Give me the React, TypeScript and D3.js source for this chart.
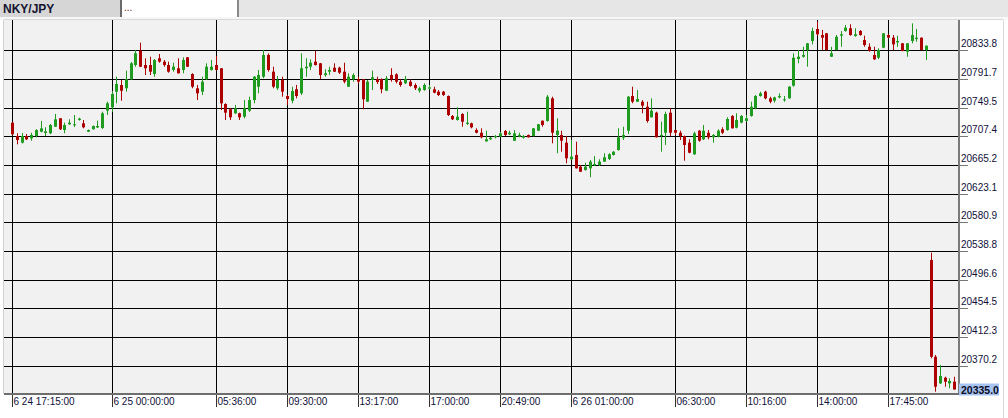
import React from "react";
import * as d3 from "d3";

const opens = [20727.4,20707.8,20698.0,20707.8,20704.4,20707.8,20714.1,20712.2,20711.8,20721.5,20733.9,20716.6,20725.1,20723.6,20731.3,20726.5,20714.1,20717.7,20720.4,20719.6,20745.1,20750.0,20773.0,20782.8,20778.0,20791.2,20812.2,20833.2,20812.2,20812.2,20799.0,20822.1,20817.1,20812.2,20804.9,20807.4,20804.9,20823.5,20799.0,20778.0,20773.0,20791.2,20804.9,20812.2,20807.4,20754.9,20747.1,20741.2,20741.2,20736.2,20745.1,20760.7,20780.3,20795.0,20826.9,20802.4,20778.0,20790.2,20766.6,20759.7,20776.5,20770.6,20807.4,20809.7,20817.1,20814.7,20797.5,20802.4,20808.2,20808.2,20802.4,20780.3,20791.2,20791.2,20791.2,20758.3,20790.2,20791.2,20791.2,20774.4,20797.5,20798.5,20787.7,20785.3,20787.7,20782.8,20774.4,20775.4,20777.4,20776.5,20773.0,20773.0,20766.6,20737.2,20731.3,20740.2,20725.5,20726.5,20716.6,20712.6,20700.0,20703.0,20705.9,20706.8,20715.2,20710.3,20700.9,20706.8,20705.3,20709.3,20707.8,20715.6,20730.3,20729.9,20763.2,20709.3,20709.3,20698.0,20673.5,20679.9,20662.7,20657.8,20660.3,20664.7,20665.2,20670.1,20674.0,20679.9,20687.2,20705.3,20715.6,20766.6,20758.2,20758.2,20750.9,20735.3,20742.1,20707.8,20712.6,20742.1,20716.6,20712.6,20707.8,20698.0,20680.9,20715.6,20703.0,20712.6,20705.9,20706.8,20717.7,20716.6,20737.2,20720.0,20727.4,20729.9,20737.2,20748.5,20766.6,20773.0,20763.2,20759.7,20764.7,20760.7,20763.2,20781.8,20821.1,20824.4,20834.3,20847.5,20865.2,20856.3,20858.8,20824.4,20834.3,20855.3,20862.2,20866.2,20854.9,20862.2,20849.0,20839.1,20826.9,20823.0,20837.7,20856.3,20852.4,20845.6,20844.1,20831.8,20847.5,20850.4,20852.4,20834.3,20525.4,20383.2,20344.1,20352.4,20344.1,20346.5];
const highs = [20728.4,20711.8,20712.2,20710.7,20712.6,20717.7,20729.9,20720.6,20725.5,20740.2,20734.3,20727.4,20732.4,20738.7,20734.7,20731.3,20717.4,20723.3,20730.4,20743.6,20758.3,20774.0,20795.0,20790.2,20803.9,20816.6,20834.3,20845.0,20822.1,20824.4,20821.0,20828.4,20819.6,20817.1,20815.6,20822.1,20823.5,20824.0,20800.0,20782.8,20795.0,20814.7,20819.6,20825.4,20807.8,20755.9,20749.0,20753.4,20742.1,20760.7,20765.6,20796.0,20804.9,20834.3,20829.4,20809.7,20796.0,20795.0,20768.1,20780.3,20782.8,20829.4,20822.1,20820.6,20833.2,20815.2,20805.9,20809.7,20814.7,20809.7,20815.6,20800.0,20800.0,20795.0,20791.6,20790.2,20803.9,20795.0,20792.7,20796.0,20807.4,20800.0,20791.2,20796.0,20791.2,20785.3,20780.3,20785.3,20782.8,20780.3,20775.4,20774.0,20767.4,20738.7,20750.0,20741.2,20743.6,20727.4,20719.1,20719.1,20715.6,20706.3,20709.3,20713.7,20716.6,20715.6,20716.6,20712.6,20709.3,20710.0,20719.6,20725.5,20730.6,20768.1,20765.6,20733.8,20715.6,20707.8,20701.9,20699.4,20665.2,20668.5,20672.5,20678.4,20673.5,20682.4,20682.4,20685.7,20719.1,20721.5,20766.6,20780.3,20775.4,20760.7,20758.3,20763.2,20743.6,20728.8,20743.6,20748.5,20716.8,20715.6,20708.5,20703.0,20714.1,20716.6,20724.0,20716.6,20710.7,20717.7,20720.6,20735.3,20738.7,20741.2,20738.7,20738.7,20758.3,20768.1,20773.0,20774.4,20765.6,20765.6,20770.6,20766.6,20781.3,20829.4,20834.3,20839.1,20844.6,20867.1,20875.9,20863.7,20859.3,20839.1,20856.3,20862.2,20871.0,20872.1,20866.2,20863.7,20855.3,20844.1,20839.1,20836.8,20859.3,20857.4,20856.3,20855.3,20844.6,20844.6,20873.5,20865.2,20852.7,20840.9,20536.2,20385.7,20371.0,20353.8,20351.5,20353.8];
const lows = [20709.3,20695.6,20696.8,20701.9,20700.9,20705.9,20713.2,20707.8,20710.7,20721.1,20716.6,20711.8,20724.0,20721.1,20730.4,20719.1,20713.7,20717.4,20719.6,20718.1,20738.7,20743.2,20755.9,20759.7,20773.0,20790.2,20809.7,20809.3,20797.5,20797.5,20795.0,20815.6,20809.7,20800.9,20802.4,20799.7,20800.0,20809.3,20778.0,20760.7,20768.1,20790.2,20804.1,20804.1,20746.0,20731.3,20731.3,20740.2,20731.3,20733.8,20743.2,20755.9,20770.6,20792.7,20802.4,20778.0,20775.4,20765.6,20753.4,20755.9,20763.2,20768.1,20795.0,20804.9,20811.5,20791.2,20795.0,20797.5,20801.9,20799.0,20785.3,20779.9,20787.7,20785.3,20747.1,20757.8,20775.4,20784.3,20770.6,20774.0,20787.7,20785.3,20780.3,20784.3,20780.3,20775.4,20771.5,20774.4,20776.5,20770.6,20766.6,20766.6,20737.2,20731.3,20730.6,20721.5,20724.0,20719.1,20711.8,20704.4,20699.4,20701.9,20704.4,20706.3,20707.8,20709.3,20700.4,20705.9,20704.1,20705.6,20707.1,20715.2,20721.5,20729.1,20697.1,20682.4,20684.7,20667.7,20672.5,20660.0,20654.9,20656.8,20647.1,20663.7,20663.7,20669.6,20672.5,20679.1,20686.2,20701.9,20710.7,20755.9,20757.8,20741.2,20727.4,20735.0,20705.6,20684.7,20694.6,20707.8,20709.3,20701.9,20671.5,20682.4,20679.9,20699.4,20701.9,20703.0,20698.0,20705.9,20710.7,20715.6,20718.8,20719.1,20726.5,20728.8,20736.2,20747.1,20765.6,20761.8,20755.9,20756.8,20763.2,20758.2,20762.7,20780.3,20814.7,20823.0,20809.7,20842.6,20855.3,20834.3,20833.8,20824.0,20833.8,20839.1,20861.2,20855.3,20853.8,20855.3,20839.1,20831.8,20819.6,20821.0,20836.8,20851.5,20834.3,20839.1,20832.4,20824.4,20844.1,20846.5,20833.8,20819.6,20380.9,20331.8,20343.1,20339.1,20336.8,20335.0];
const closes = [20710.3,20701.9,20707.8,20703.0,20709.3,20716.6,20719.1,20714.7,20724.0,20732.4,20717.7,20724.0,20727.4,20725.1,20733.3,20720.6,20716.6,20722.5,20722.5,20741.2,20755.9,20769.6,20784.3,20774.4,20791.2,20814.7,20829.4,20809.7,20807.4,20802.4,20819.6,20817.1,20812.2,20802.4,20809.7,20800.0,20819.6,20809.7,20780.3,20770.6,20787.7,20809.7,20809.7,20804.9,20755.9,20742.1,20735.3,20748.5,20735.3,20748.5,20760.7,20795.0,20797.5,20826.9,20804.9,20780.3,20790.2,20773.0,20762.2,20774.0,20766.6,20807.4,20809.7,20815.6,20812.2,20797.5,20800.0,20804.9,20802.4,20800.9,20787.7,20795.0,20797.5,20787.7,20761.8,20787.7,20794.1,20787.2,20776.5,20792.7,20791.2,20787.7,20782.8,20791.2,20781.4,20778.0,20778.0,20782.8,20779.4,20771.5,20768.1,20768.1,20738.7,20732.4,20736.2,20728.8,20727.4,20720.6,20712.6,20705.9,20703.0,20705.3,20707.8,20711.8,20709.3,20712.6,20711.8,20709.3,20707.8,20705.9,20719.1,20725.1,20724.0,20765.6,20712.6,20715.6,20700.9,20675.0,20677.4,20660.3,20655.3,20662.7,20670.1,20666.6,20670.1,20676.5,20680.9,20684.7,20705.9,20709.3,20765.6,20758.2,20762.2,20752.4,20729.9,20745.1,20705.9,20709.3,20740.2,20712.6,20712.6,20707.8,20694.6,20683.2,20711.8,20700.9,20715.6,20705.9,20709.3,20715.6,20712.6,20732.8,20719.1,20731.3,20737.2,20733.8,20750.9,20766.6,20770.6,20763.2,20758.2,20764.7,20766.6,20761.8,20780.3,20822.9,20824.4,20826.9,20844.1,20862.2,20857.4,20852.4,20834.3,20829.4,20853.8,20857.4,20867.1,20856.3,20857.4,20856.3,20841.6,20832.8,20820.6,20834.3,20858.8,20852.4,20842.6,20847.5,20832.8,20844.1,20856.3,20852.4,20834.3,20840.6,20383.2,20339.1,20354.9,20346.5,20347.5,20335.0];

const priceTicks = [20833.8, 20791.7, 20749.5, 20707.4, 20665.2, 20623.1, 20580.9, 20538.8, 20496.6, 20454.5, 20412.3, 20370.2];
const timeTickIndex = [0, 21, 43, 58, 73, 88, 103, 118, 140, 155, 170, 185];
const timeTickLabels = ["6 24 17:15:00", "6 25 00:00:00", "05:36:00", "09:30:00", "13:17:00", "17:00:00", "20:49:00", "6 26 01:00:00", "06:30:00", "10:16:00", "14:00:00", "17:45:00"];
const symbol = "NKY/JPY";
const lastPrice = 20335.0;

const W = 1008, H = 418;
const plotL = 4, plotR = 959, plotT = 20, plotB = 394;
const UP = "#1f9b1f";
const DOWN = "#ad0000";
const FONT = "'Liberation Sans', Arial, sans-serif";

export default function App() {
  const n = opens.length;
  const x = d3.scaleLinear().domain([0, n - 1]).range([12.3, 954.2]);
  const y = d3.scaleLinear().domain([20328.4, 20878.4]).range([plotB, plotT]);
  const candles = d3.range(n).map((i) => ({ i, o: opens[i], h: highs[i], l: lows[i], c: closes[i] }));
  const px = (v: number) => Math.round(v) + 0.5;

  return (
    <svg width={W} height={H} style={{ position: "absolute", left: 0, top: 0, display: "block" }} fontFamily={FONT}>
      <rect x={0} y={0} width={W} height={H} fill="#ffffff" />
      {/* header */}
      <rect x={0} y={0} width={W} height={17} fill="#e6e6e6" />
      <rect x={0} y={0} width={120} height={17} fill="#d6d6d6" />
      <rect x={122} y={0} width={116} height={17} fill="#ffffff" />
      <rect x={120} y={0} width={2} height={17} fill="#6a6a6a" />
      <rect x={237} y={0} width={2} height={17} fill="#8a8a8a" />
      <text x={3} y={12.5} fontSize={12} fontWeight="bold" fill="#141430">{symbol}</text>
      <text x={124} y={11} fontSize={10} fill="#7a1010">...</text>
      <rect x={0} y={17} width={W} height={3} fill="#f7f7f7" />
      {/* plot background */}
      <rect x={plotL} y={plotT} width={plotR - plotL} height={plotB - plotT} fill="#f1f1f1" />
      <line x1={plotL - 0.5} x2={plotL - 0.5} y1={plotT} y2={plotB} stroke="#d0d0d0" />
      <line x1={plotL} x2={1003} y1={plotT - 0.5} y2={plotT - 0.5} stroke="#d8d8d8" />
      <line x1={1003.5} x2={1003.5} y1={plotT} y2={H} stroke="#d8d8d8" />
      {/* horizontal grid */}
      {priceTicks.map((t) => (
        <g key={"h" + t}>
          <line x1={plotL} x2={plotR} y1={px(y(t))} y2={px(y(t))} stroke="#000" strokeWidth={1} />
          <line x1={plotR} x2={968} y1={px(y(t))} y2={px(y(t))} stroke="#777" strokeWidth={1} />
          <text x={961} y={px(y(t)) - 3.5} fontSize={10} fill="#10103a">{t.toFixed(1)}</text>
        </g>
      ))}
      {/* vertical grid */}
      {timeTickIndex.map((ti, k) => (
        <g key={"v" + ti}>
          <line x1={px(x(ti))} x2={px(x(ti))} y1={plotT} y2={plotB} stroke="#000" strokeWidth={1} />
          <line x1={px(x(ti))} x2={px(x(ti))} y1={plotB} y2={407} stroke="#333" strokeWidth={1} />
          <text x={px(x(ti)) + 1} y={404.5} fontSize={10} fill="#10103a">{timeTickLabels[k]}</text>
        </g>
      ))}
      {/* axes */}
      <rect x={plotR - 1} y={plotT} width={2} height={plotB - plotT + 1} fill="#7a7a7a" />
      <rect x={plotL} y={plotB - 1} width={plotR - plotL} height={2} fill="#6e6e6e" />
      {/* candles */}
      {candles.map((d) => {
        const up = d.c >= d.o;
        const col = up ? UP : DOWN;
        const cx = Math.round(x(d.i));
        const top = y(Math.max(d.o, d.c));
        const bot = y(Math.min(d.o, d.c));
        return (
          <g key={"c" + d.i}>
            <line x1={cx + 0.5} x2={cx + 0.5} y1={y(d.h)} y2={y(d.l)} stroke={col} strokeWidth={1} />
            <rect x={cx - 1} y={top} width={3} height={Math.max(1, bot - top)} fill={col} />
          </g>
        );
      })}
      {/* last price label */}
      <rect x={959} y={y(lastPrice) - 6} width={40} height={12} fill="#a6c4f2" />
      <text x={961} y={y(lastPrice) + 4} fontSize={10.5} fontWeight="bold" fill="#0a0a20">{lastPrice.toFixed(1)}</text>
    </svg>
  );
}
